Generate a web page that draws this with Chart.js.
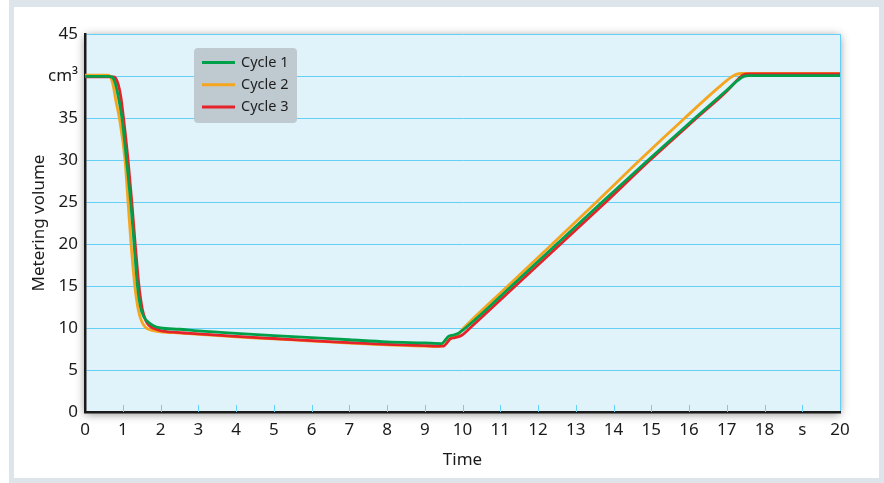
<!DOCTYPE html>
<html>
<head>
<meta charset="utf-8">
<script src="https://cdn.jsdelivr.net/npm/chart.js@4/dist/chart.umd.min.js"></script>
<style>
html,body{margin:0;padding:0;background:#fff;}
#frame{position:absolute;left:9px;top:0;border:5px solid #dde4ea;border-top-width:7px;box-sizing:border-box;width:875px;height:483px;}
#wrap{position:absolute;left:0;top:0;width:884px;height:483px;}
</style>
</head>
<body>
<div id="frame"></div>
<div id="wrap"><canvas id="c" width="884" height="483"></canvas></div>
<script>

// values
const cycle1Time=[0,0.6,0.71,0.79,0.87,0.98,1.10,1.21,1.30,1.39,1.47,1.55,1.65,1.8,2.0,2.5,3,4,5,6,7,8,9,9.45,9.55,9.63,9.75,9.88,10.08,11.3,12.5,13.7,14.92,16.16,17.0,17.3,17.45,17.6,20]
const cycle1Vol=[39.95,39.95,39.9,39.3,37.8,35,30,25,20,15,12.5,11.4,10.8,10.3,10.0,9.85,9.65,9.35,9.1,8.85,8.6,8.35,8.22,8.15,8.6,9.0,9.15,9.35,10.0,15,20,25,30,35,38.3,39.5,39.95,40.05,40.05]

const cycle2Time=[0,0.6,0.66,0.74,0.82,0.91,1.06,1.14,1.22,1.32,1.41,1.5,1.6,1.75,2.0,2.5,3,4,5,6,7,8,9,9.4,9.52,9.62,9.72,9.87,10.03,11.2,12.38,13.55,14.70,15.89,16.8,17.1,17.25,17.4,20]
const cycle2Vol=[40.1,40.1,40.0,39.0,37.0,35,30,25,20,15,12.2,10.8,10.1,9.75,9.55,9.4,9.25,8.95,8.7,8.45,8.2,7.98,7.85,7.8,8.4,8.75,8.9,9.2,10.0,15,20,25,30,35,38.7,39.8,40.2,40.3,40.3]

const cycle3Time=[0,0.75,0.8,0.88,0.95,1.02,1.14,1.24,1.33,1.43,1.52,1.6,1.7,1.85,2.0,2.34,3,4,5,6,7,8,9,9.5,9.6,9.68,9.8,9.97,10.2,11.4,12.6,13.8,14.97,16.2,17.0,17.3,17.42,17.6,20]
const cycle3Vol=[39.9,39.9,39.8,39.0,37.5,35,30,25,20,15,12.2,11.0,10.3,9.9,9.7,9.5,9.3,9.0,8.75,8.5,8.25,8.05,7.9,7.85,8.3,8.7,8.85,9.1,10.0,15,20,25,30,35,38.2,39.6,40.1,40.25,40.25]

const seriesNames=["Cycle 1","Cycle 2","Cycle 3"]
const seriesColors=["#00a04b","#f6a51f","#e5232b"]

const xTickLabels={19:"s"}
const yTickLabels={40:"cm³"}

const FONT="'Noto Sans', 'Open Sans', sans-serif"
const GRID="#66cff5"

function pts(t,v){return t.map((x,i)=>({x:x,y:v[i]}))}

const plotBg={
id:"plotBg",
beforeDraw(chart){
const a=chart.chartArea,ctx=chart.ctx
ctx.save()
ctx.shadowColor="rgba(0,0,0,0.45)"
ctx.shadowBlur=9
ctx.shadowOffsetX=0
ctx.shadowOffsetY=2
ctx.fillStyle="#e0f2fa"
ctx.fillRect(a.left,a.top,a.right-a.left,a.bottom-a.top)
ctx.restore()
},
afterDatasetsDraw(chart){
const ctx=chart.ctx,a=chart.chartArea,xs=chart.scales.x
ctx.save()
// small ticks inside the plot along the time axis
ctx.strokeStyle=GRID
ctx.lineWidth=1
for(let v=1;v<20;v++){
const x=Math.round(xs.getPixelForValue(v))+0.5
ctx.beginPath()
ctx.moveTo(x,a.bottom)
ctx.lineTo(x,a.bottom-7)
ctx.stroke()
}
// legend box
const bx=194,by=48,bw=103,bh=75,r=4
ctx.fillStyle="#bfcad0"
ctx.beginPath()
ctx.moveTo(bx+r,by)
ctx.arcTo(bx+bw,by,bx+bw,by+bh,r)
ctx.arcTo(bx+bw,by+bh,bx,by+bh,r)
ctx.arcTo(bx,by+bh,bx,by,r)
ctx.arcTo(bx,by,bx+bw,by,r)
ctx.closePath()
ctx.fill()
chart.data.datasets.forEach((d,i)=>{
const y=62.5+i*22.3
ctx.strokeStyle=d.borderColor
ctx.lineWidth=3
ctx.beginPath()
ctx.moveTo(202,y)
ctx.lineTo(235,y)
ctx.stroke()
ctx.fillStyle="#1e1e1e"
ctx.font="14.5px "+FONT
ctx.textBaseline="middle"
ctx.fillText(d.label,241,y)
})
ctx.restore()
}
}

const datasets=[
{label:seriesNames[0],data:pts(cycle1Time,cycle1Vol),borderColor:seriesColors[0],order:0},
{label:seriesNames[1],data:pts(cycle2Time,cycle2Vol),borderColor:seriesColors[1],order:2},
{label:seriesNames[2],data:pts(cycle3Time,cycle3Vol),borderColor:seriesColors[2],order:1}
].map(d=>Object.assign(d,{borderWidth:2.8,pointRadius:0,cubicInterpolationMode:"monotone",fill:false}))

new Chart(document.getElementById("c"),{
type:"line",
data:{datasets:datasets},
options:{
responsive:false,
animation:false,
layout:{padding:{left:0,top:34,right:44,bottom:0}},
plugins:{legend:{display:false},tooltip:{enabled:false}},
scales:{
x:{
type:"linear",min:0,max:20,
afterFit(s){s.height=71},
ticks:{stepSize:1,padding:8,color:"#1a1a1a",font:{family:FONT,size:17},maxRotation:0,autoSkip:false,
callback:v=>xTickLabels[v]||String(v)},
grid:{drawTicks:false,color:c=>c.tick&&c.tick.value===20?GRID:"transparent",lineWidth:1},
border:{color:"#1a1a1a",width:2.5},
title:{display:true,text:"Time",color:"#1a1a1a",font:{family:FONT,size:17},padding:{top:0,bottom:13}}
},
y:{
min:0,max:45,
afterFit(s){s.width=85},
ticks:{stepSize:5,padding:7,color:"#1a1a1a",font:{family:FONT,size:17},
callback:v=>yTickLabels[v]||String(v)},
grid:{drawTicks:false,color:c=>c.tick&&c.tick.value===0?"transparent":GRID,lineWidth:1},
border:{color:"#1a1a1a",width:2.5},
title:{display:true,text:"Metering volume",color:"#1a1a1a",font:{family:FONT,size:17},padding:{top:29,bottom:0}}
}
}
},
plugins:[plotBg]
})
</script>
</body>
</html>
